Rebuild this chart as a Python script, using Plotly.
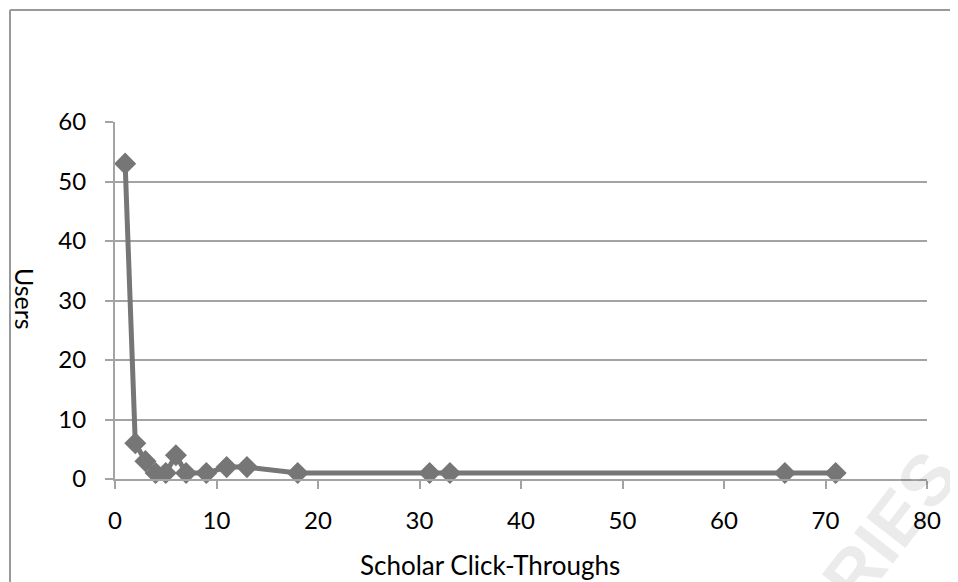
import plotly.graph_objects as go

clicks = [1, 2, 3, 4, 5, 6, 7, 9, 11, 13, 18, 31, 33, 66, 71]
users = [53, 6, 3, 1, 1, 4, 1, 1, 2, 2, 1, 1, 1, 1, 1]
x_ticks = [0, 10, 20, 30, 40, 50, 60, 70, 80]
y_ticks = [0, 10, 20, 30, 40, 50, 60]

OFF = 8                      # default page body margin
W, H = 958 - OFF, 582 - OFF
# plot area, in page pixels
L, R, T, B = 115, 927, 122, 479


def px(x):
    return (x - L) / (R - L)


def py(y):
    return (B - y) / (B - T)


FONT = "Lato, Open Sans, sans-serif"
FS = 24
gray = "#767676"
grid = "#a3a3a3"

fig = go.Figure()
fig.add_trace(go.Scatter(
    x=clicks, y=users, mode="lines+markers",
    line=dict(color=gray, width=5),
    marker=dict(symbol="diamond", size=17, color=gray),
    cliponaxis=False, showlegend=False,
))

fig.update_layout(
    width=W, height=H,
    margin=dict(l=L - OFF, r=W - (R - OFF), t=T - OFF, b=H - (B - OFF), pad=0),
    paper_bgcolor="white", plot_bgcolor="white",
    font=dict(family=FONT, size=FS, color="black"),
    xaxis=dict(range=[0, 80], tickvals=x_ticks, showgrid=False, zeroline=False,
               showline=True, linecolor=grid, linewidth=2,
               ticks="outside", ticklen=8, tickwidth=2, tickcolor=grid,
               ticklabelstandoff=11, tickfont=dict(size=FS)),
    yaxis=dict(range=[0, 60], tickvals=y_ticks, showgrid=True, gridcolor=grid,
               gridwidth=2, zeroline=False,
               showline=True, linecolor=grid, linewidth=2,
               ticks="outside", ticklen=8, tickwidth=2, tickcolor=grid,
               ticklabelstandoff=14, tickfont=dict(size=FS)),
    shapes=[
        dict(type="line", xref="paper", yref="paper", x0=px(10), x1=px(975),
             y0=py(10), y1=py(10), line=dict(color="#999999", width=2)),
        dict(type="line", xref="paper", yref="paper", x0=px(10), x1=px(10),
             y0=py(10), y1=py(600), line=dict(color="#999999", width=2)),
    ],
    annotations=[
        dict(text="<b>RIES</b>", xref="paper", yref="paper", x=px(890), y=py(527),
             xanchor="center", yanchor="middle",
             showarrow=False, textangle=-52,
             font=dict(family="Liberation Sans, sans-serif", size=72,
                       color="rgba(0,0,0,0.08)")),
        dict(text="Users", xref="paper", yref="paper", x=px(25), y=py(299),
             xanchor="center", yanchor="middle",
             showarrow=False, textangle=90, font=dict(size=25)),
        dict(text="Scholar Click-Throughs", xref="paper", yref="paper",
             x=px(490), y=py(565), xanchor="center", yanchor="middle",
             showarrow=False, font=dict(size=26)),
    ],
)

fig.write_html("out.html")
